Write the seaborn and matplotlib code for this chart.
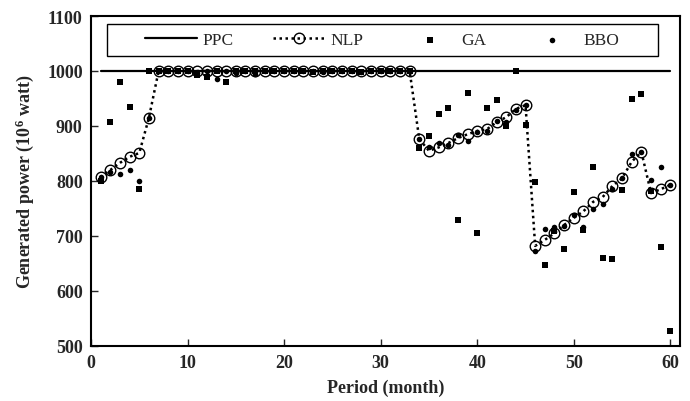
import matplotlib
matplotlib.use("Agg")
import matplotlib.pyplot as plt
from matplotlib.patches import Rectangle
import seaborn as sns
import pandas as pd

months = list(range(1, 61))

ppc = [1000] * 60

nlp = [807, 820, 833, 844, 851, 915] + [1000] * 27 + [
    876, 855, 861, 869, 878, 885, 891, 894, 907, 916, 931, 938,
    682, 693, 705, 720, 733, 745, 762, 771, 791, 805, 835, 853, 778, 785, 793]

ga = [800, 907, 980, 935, 785, 1000,
      1000, 1000, 1000, 1000, 993, 990, 1000, 980, 1000, 1000, 1000, 1000, 1000,
      1000, 1000, 1000, 998, 1000, 1000, 1000, 1000, 998, 1000, 1000, 1000, 1000, 1000,
      860, 882, 922, 933, 729, 960, 705, 933, 947, 900, 1000, 902,
      798, 647, 709, 676, 780, 711, 825, 660, 658, 784, 949, 958, 782, 680, 527]

bbo = [807, 816, 813, 820, 800, 915,
       1000, 1000, 1000, 1000, 997, 1000, 985, 1000, 997, 1000, 994, 1000, 1000,
       1000, 1000, 1000, 1000, 998, 1000, 1000, 1000, 999, 1000, 1000, 1000, 1000, 1000,
       876, 862, 869, 865, 884, 873, 890, 891, 909, 907, 930, 938,
       672, 712, 716, 718, 738, 716, 749, 758, 785, 805, 850, 853, 802, 825, 793]

x_ticks = [0, 10, 20, 30, 40, 50, 60]
y_ticks = [500, 600, 700, 800, 900, 1000, 1100]

df = pd.DataFrame({"month": months, "PPC": ppc, "NLP": nlp, "GA": ga, "BBO": bbo})

sns.set_theme(style="ticks")
plt.rcParams["font.family"] = ["Liberation Serif", "DejaVu Serif"]
plt.rcParams["mathtext.fontset"] = "custom"
plt.rcParams["mathtext.rm"] = "Liberation Serif:bold"
plt.rcParams["mathtext.bf"] = "Liberation Serif:bold"
plt.rcParams["mathtext.it"] = "Liberation Serif:bold"

fig = plt.figure(figsize=(6.9, 4.02), dpi=100)
ax = fig.add_axes([91 / 690, 1 - 347 / 402, (680 - 91) / 690, (347 - 17) / 402])

sns.lineplot(data=df, x="month", y="PPC", ax=ax, color="black", linewidth=1.6,
             label="PPC", zorder=2)
sns.scatterplot(data=df, x="month", y="GA", ax=ax, marker="s", s=22, color="black",
                edgecolor="black", linewidth=0, label="GA", zorder=3)
sns.scatterplot(data=df, x="month", y="BBO", ax=ax, marker="o", s=16, color="black",
                edgecolor="black", linewidth=0, label="BBO", zorder=3)
sns.lineplot(data=df, x="month", y="NLP", ax=ax, color="black", linewidth=1.8,
             linestyle=(0, (1, 1.4)), marker="o", markersize=7.6, markerfacecolor="none",
             markeredgecolor="black", markeredgewidth=1.0, label="NLP", zorder=4)

ax.set_xlim(0, 61)
ax.set_ylim(500, 1100)
ax.set_xticks(x_ticks)
ax.set_yticks(y_ticks)
ax.tick_params(direction="in", length=5, width=1, labelsize=13, pad=6)
for lab in ax.get_xticklabels() + ax.get_yticklabels():
    lab.set_fontweight("bold")
for sp in ax.spines.values():
    sp.set_linewidth(1.5)
    sp.set_color("black")
    sp.set_visible(True)

ax.set_xlabel("Period (month)", fontsize=13, fontweight="bold", labelpad=5)
ax.set_ylabel(r"Generated power (10$^{6}$ watt)", fontsize=13, fontweight="bold", labelpad=8)

# legend frame box
ax.add_patch(Rectangle((0.0272, 0.8788), 0.9354, 0.097, transform=ax.transAxes,
                       facecolor="white", edgecolor="black", linewidth=1.0, zorder=5))

handles, labels = ax.get_legend_handles_labels()
order = [labels.index(k) for k in ["PPC", "NLP", "GA", "BBO"]]
leg = ax.legend([handles[i] for i in order], [labels[i] for i in order],
                ncol=4, loc="center", bbox_to_anchor=(0.494, 0.927),
                frameon=False, fontsize=12.5, handlelength=3.0,
                handletextpad=0.3, columnspacing=2.3, borderaxespad=0, borderpad=0)
leg.set_zorder(6)

fig.savefig("out.png", dpi=100)
